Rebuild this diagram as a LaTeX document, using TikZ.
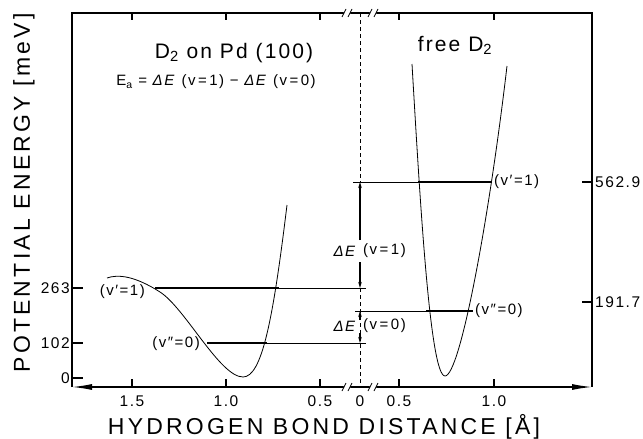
\documentclass[tikz,border=0pt]{standalone}
\usepackage{fontspec}
\setmainfont{Liberation Sans}
\newfontfamily\titlefont{Liberation Sans}[LetterSpace=14]
\newfontfamily\wordfont{Liberation Sans}[LetterSpace=10]
\usetikzlibrary{arrows.meta}

\tikzset{
  axis/.style={line width=1.3pt},
  curve/.style={line width=0.8pt},
  level/.style={line width=1.8pt},
  guide/.style={line width=0.5pt},
  gap/.style={line width=1.2pt, -{Stealth[length=6pt,width=3.5pt]}},
  numlabel/.style={font=\wordfont\fontsize{15.5}{15.5}\selectfont, inner sep=2pt},
  vlabel/.style={font=\wordfont\fontsize{15}{15}\selectfont, inner sep=1pt},
}
% axis break mark "//"
\newcommand{\axbreak}[2]{%
  \fill[white] (#1-4,#2-3) -- (#1+2,#2-3) -- (#1+4,#2+3) -- (#1-2,#2+3) -- cycle;
  \draw[line width=0.8pt] (#1-5,#2+4) -- (#1-1,#2-4) (#1+1,#2+4) -- (#1+5,#2-4);}

\begin{document}
\begin{tikzpicture}[x=1pt,y=-1pt]
  \useasboundingbox (0,0) rectangle (643,439);

  % frame and axes
  \draw[axis] (72,387) -- (72,13) -- (592,13) -- (592,387);
  \draw[axis, {Latex[length=20pt,width=6pt]}-{Latex[length=20pt,width=6pt]}] (72,387) -- (592,387);
  \foreach \x in {132,226,320,399,494} {
    \draw[axis] (\x,13) -- (\x,20);
    \draw[axis] (\x,387) -- (\x,379);
  }
  \foreach \x in {347,373} {
    \axbreak{\x}{13}
    \axbreak{\x}{387}
  }
  \foreach \y in {288,343,378} \draw[axis] (72,\y) -- (83,\y);
  \foreach \y in {182,302} \draw[axis] (582,\y) -- (592,\y);

  % tick labels
  \node[numlabel, anchor=east] at (72,288) {263};
  \node[numlabel, anchor=east] at (72,343) {102};
  \node[numlabel, anchor=east] at (72,378) {0};
  \node[numlabel, anchor=west] at (593,182) {562.9};
  \node[numlabel, anchor=west] at (593,302) {191.7};
  \foreach \x/\t in {132/1.5, 226/1.0, 320/0.5, 360/0, 399/0.5, 494/1.0}
    \node[numlabel] at (\x,401) {\t};

  % axis titles
  \node[font=\titlefont\fontsize{23}{23}\selectfont] at (324,427) {HYDROGEN BOND DISTANCE [Å]};
  \node[font=\titlefont\fontsize{23}{23}\selectfont, rotate=90] at (24,193) {POTENTIAL ENERGY [meV]};

  % headings
  \node[font=\wordfont\fontsize{21}{21}\selectfont] at (234,53) {D\textsubscript{2} on Pd (100)};
  \node[font=\wordfont\fontsize{15}{15}\selectfont] at (216,82) {E\textsubscript{a} = \textit{ΔE} (v\,=\,1) − \textit{ΔE} (v\,=\,0)};
  \node[font=\wordfont\fontsize{21}{21}\selectfont] at (455,45) {free D\textsubscript{2}};

  % potential on Pd(100)
  \draw[curve] (107,278) .. controls (118,274) and (135,276) .. (160,292)
    .. controls (185,308) and (220,377) .. (243,377)
    .. controls (262,377) and (273,320) .. (287,205);
  % free molecule
  \draw[curve] (412,64) .. controls (420,200) and (430,376) .. (445,376)
    .. controls (460,376) and (489,220) .. (507,66);

  % vibrational levels
  \draw[level] (155,288) -- (279,288);
  \draw[level] (207,343) -- (267,343);
  \draw[level] (418,182) -- (492,182);
  \draw[level] (426,311) -- (473,311);
  \draw[guide] (279,288) -- (366,288);
  \draw[guide] (267,343) -- (366,343);
  \draw[guide] (353,182) -- (418,182);
  \draw[guide] (355,311) -- (426,311);

  \node[vlabel, anchor=east] at (146,292) {(v′=1)};
  \node[vlabel, anchor=east] at (201,344) {(v″=0)};
  \node[vlabel, anchor=west] at (493,182) {(v′=1)};
  \node[vlabel, anchor=west] at (474,311) {(v″=0)};

  % energy differences
  \draw[dashed, dash pattern=on 4pt off 3pt, line width=0.7pt] (360,13) -- (360,182);
  \draw[dashed, dash pattern=on 4pt off 3pt, line width=0.7pt] (360,288) -- (360,387);
  \draw[gap] (360,240) -- (360,182);
  \draw[gap] (360,262) -- (360,288);
  \draw[gap] (360,320) -- (360,311);
  \draw[gap] (360,333) -- (360,343);
  \node[vlabel, anchor=east] at (358,251) {\textit{ΔE}};
  \node[vlabel, anchor=west] at (362,251) {(v\,=\,1)};
  \node[vlabel, anchor=east] at (358,326) {\textit{ΔE}};
  \node[vlabel, anchor=west] at (362,326) {(v\,=\,0)};
\end{tikzpicture}
\end{document}
